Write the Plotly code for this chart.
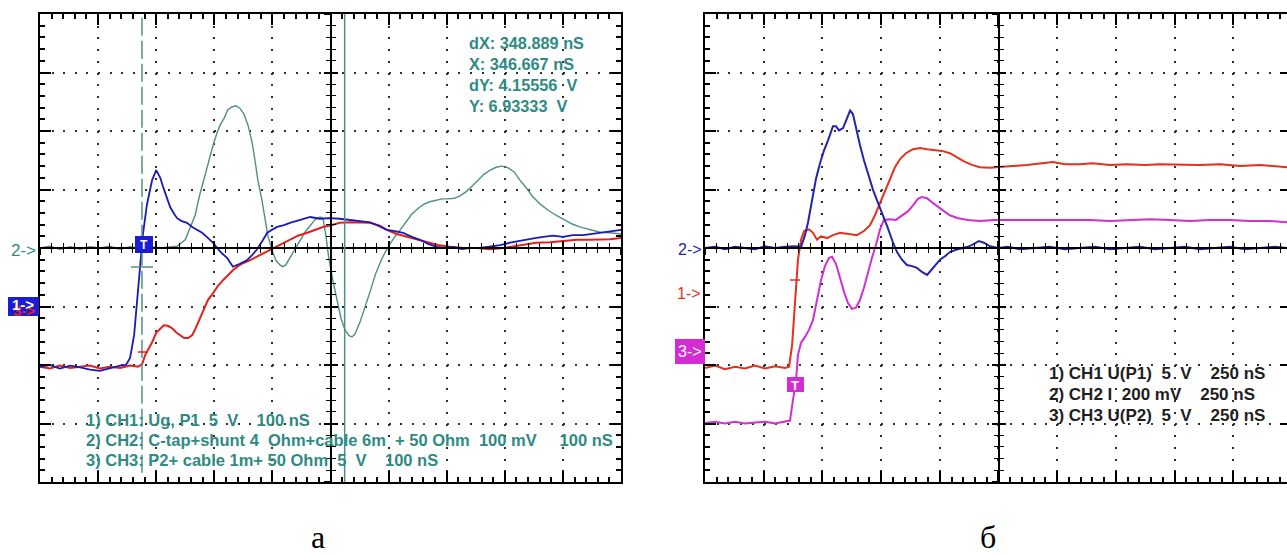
import plotly.graph_objects as go

W, H = 1287, 555

# ---------------- panel "а": 100 nS/div, amplitudes in screen divisions ----------------
A_CH1 = [(0, -2.03), (17, -2.00), (34, -2.06), (52, -2.01), (69, -2.04), (86, -2.08), (103, -2.10),
         (120, -2.05), (138, -2.01), (148, -2.00), (155, -1.88), (162, -1.49), (167, -0.89), (172, -0.24),
         (177, 0.22), (184, 0.74), (193, 1.16), (200, 1.33), (207, 1.20), (212, 1.04), (219, 0.85),
         (224, 0.70), (231, 0.58), (236, 0.51), (244, 0.46), (253, 0.43), (262, 0.36), (270, 0.31),
         (279, 0.26), (287, 0.19), (298, 0.09), (305, 0.00), (313, -0.09), (322, -0.17), (332, -0.32),
         (344, -0.27), (356, -0.21), (365, -0.12), (373, -0.03), (384, 0.14), (391, 0.26), (399, 0.31),
         (408, 0.36), (420, 0.39), (430, 0.43), (448, 0.48), (465, 0.53), (482, 0.50), (499, 0.51),
         (516, 0.50), (534, 0.48), (551, 0.46), (568, 0.44), (582, 0.38), (597, 0.31), (611, 0.29),
         (625, 0.26), (640, 0.19), (654, 0.14), (668, 0.07), (683, 0.02), (697, 0.00), (711, 0.02),
         (726, -0.02), (740, 0.00), (757, 0.00), (775, 0.02), (792, 0.05), (809, 0.09), (823, 0.12),
         (838, 0.14), (852, 0.17), (866, 0.19), (883, 0.21), (900, 0.19), (917, 0.22), (935, 0.22),
         (952, 0.24), (969, 0.26), (985, 0.29), (1000, 0.31)]

A_CH2 = [(0, 0.00), (17, 0.03), (34, -0.02), (52, 0.02), (69, -0.02), (86, 0.02), (103, 0.00),
         (120, 0.03), (138, -0.02), (155, 0.02), (172, -0.02), (189, 0.02), (207, 0.00), (224, 0.02),
         (236, 0.03), (250, 0.14), (258, 0.34), (267, 0.56), (275, 0.91), (284, 1.25), (293, 1.59),
         (298, 1.76), (305, 1.98), (310, 2.10), (317, 2.22), (323, 2.36), (330, 2.41), (337, 2.43),
         (344, 2.39), (351, 2.29), (358, 2.10), (365, 1.81), (370, 1.50), (375, 1.16), (382, 0.82),
         (387, 0.48), (392, 0.22), (399, -0.03), (406, -0.21), (413, -0.29), (418, -0.32), (423, -0.29),
         (430, -0.17), (437, -0.03), (448, 0.14), (456, 0.27), (465, 0.38), (473, 0.48), (482, 0.53),
         (487, 0.51), (492, 0.22), (497, -0.17), (504, -0.55), (511, -0.89), (518, -1.20), (525, -1.40),
         (532, -1.50), (537, -1.52), (542, -1.47), (551, -1.26), (559, -1.03), (568, -0.75), (578, -0.43),
         (589, -0.17), (599, 0.02), (609, 0.17), (620, 0.31), (630, 0.44), (640, 0.58), (651, 0.68),
         (661, 0.75), (671, 0.79), (682, 0.82), (692, 0.84), (702, 0.84), (713, 0.85), (723, 0.89),
         (733, 0.96), (744, 1.06), (754, 1.16), (764, 1.26), (775, 1.33), (785, 1.38), (795, 1.40),
         (806, 1.37), (816, 1.30), (826, 1.16), (837, 1.03), (847, 0.89), (861, 0.75), (874, 0.65),
         (888, 0.56), (902, 0.48), (916, 0.41), (929, 0.36), (947, 0.31), (964, 0.27), (981, 0.26),
         (1000, 0.24)]

A_CH3 = [(0, -2.03), (17, -2.06), (34, -2.01), (52, -2.05), (69, -2.03), (86, -2.01), (103, -2.06),
         (120, -2.03), (138, -2.05), (155, -2.01), (169, -2.03), (176, -1.98), (181, -1.83), (186, -1.74),
         (193, -1.61), (200, -1.45), (207, -1.37), (213, -1.32), (220, -1.33), (227, -1.37), (234, -1.44),
         (241, -1.49), (248, -1.54), (255, -1.54), (262, -1.49), (268, -1.37), (275, -1.20), (282, -1.03),
         (289, -0.89), (298, -0.77), (306, -0.65), (315, -0.55), (324, -0.46), (332, -0.38), (341, -0.31),
         (349, -0.26), (361, -0.21), (373, -0.15), (387, -0.07), (401, 0.00), (415, 0.07), (430, 0.14),
         (444, 0.21), (460, 0.26), (473, 0.31), (487, 0.36), (501, 0.39), (516, 0.43), (534, 0.44),
         (551, 0.44), (568, 0.43), (585, 0.38), (597, 0.31), (614, 0.24), (632, 0.19), (649, 0.14),
         (666, 0.09), (685, 0.05), (706, 0.02), (728, 0.00), (752, 0.00), (775, -0.02), (797, 0.00),
         (814, 0.03), (831, 0.05), (854, 0.09), (878, 0.10), (900, 0.12), (924, 0.14), (947, 0.14),
         (964, 0.14), (981, 0.15), (1000, 0.17)]

A_CURSOR_X = 175.5       # nS, reference (dashed) cursor
A_CURSOR_DX = 348.889    # nS, distance to the second (solid) cursor
A_READOUT = ["dX: 348.889 nS", "X: 346.667 nS", "dY: 4.15556  V", "Y: 6.93333  V"]
A_LEGEND = ["1) CH1: Ug, P1  5  V    100 nS",
            "2) CH2: C-tap+shunt 4  Ohm+cable 6m  + 50 Ohm  100 mV     100 nS",
            "3) CH3: P2+ cable 1m+ 50 Ohm  5  V    100 nS"]

# ---------------- panel "б": 250 nS/div ----------------
B_CH1 = [(0, -2.05), (43, -2.01), (85, -2.07), (128, -2.03), (170, -2.06), (213, -2.01), (256, -2.06),
         (298, -2.02), (341, -2.05), (358, -2.03), (371, -1.66), (383, -0.89), (396, -0.20), (409, 0.14),
         (422, 0.29), (443, 0.32), (460, 0.26), (477, 0.14), (494, 0.20), (520, 0.17), (545, 0.22),
         (575, 0.26), (609, 0.24), (647, 0.22), (677, 0.29), (703, 0.39), (724, 0.56), (745, 0.77),
         (767, 0.99), (788, 1.19), (809, 1.38), (831, 1.52), (856, 1.62), (886, 1.69), (916, 1.71),
         (946, 1.69), (980, 1.67), (1009, 1.66), (1043, 1.62), (1073, 1.55), (1103, 1.48), (1137, 1.42),
         (1171, 1.38), (1214, 1.37), (1256, 1.38), (1308, 1.40), (1371, 1.42), (1427, 1.45), (1482, 1.47),
         (1533, 1.43), (1597, 1.43), (1652, 1.45), (1725, 1.42), (1797, 1.43), (1874, 1.42), (1938, 1.43),
         (2023, 1.42), (2108, 1.42), (2193, 1.43), (2279, 1.40), (2364, 1.42), (2479, 1.38)]

B_CH2 = [(0, 0.00), (43, 0.02), (85, -0.02), (128, 0.02), (170, 0.00), (213, -0.02), (256, 0.03),
         (298, 0.00), (341, 0.02), (383, 0.03), (409, 0.02), (426, 0.22), (439, 0.44), (456, 0.82),
         (473, 1.19), (490, 1.45), (507, 1.67), (524, 1.84), (545, 2.08), (558, 2.08), (571, 2.01),
         (588, 2.05), (605, 2.22), (618, 2.35), (630, 2.29), (643, 2.05), (660, 1.76), (677, 1.50),
         (694, 1.28), (716, 0.99), (737, 0.77), (758, 0.56), (779, 0.34), (801, 0.09), (818, -0.07),
         (839, -0.20), (860, -0.29), (882, -0.31), (903, -0.34), (924, -0.41), (946, -0.46), (963, -0.38),
         (980, -0.29), (1001, -0.20), (1022, -0.14), (1043, -0.07), (1069, -0.03), (1095, 0.00),
         (1120, 0.02), (1146, 0.07), (1167, 0.12), (1188, 0.09), (1214, 0.03), (1248, 0.00), (1290, 0.02),
         (1342, -0.02), (1405, 0.00), (1469, 0.02), (1533, -0.02), (1597, 0.00), (1661, 0.02),
         (1725, -0.02), (1789, 0.00), (1853, 0.02), (1916, -0.02), (1980, 0.00), (2044, 0.02),
         (2108, -0.02), (2172, 0.00), (2236, 0.02), (2300, -0.02), (2364, 0.00), (2428, 0.02), (2479, 0.00)]

B_CH3 = [(0, -2.99), (43, -2.97), (85, -3.00), (128, -2.97), (170, -3.00), (213, -2.99), (256, -2.97),
         (298, -3.00), (341, -2.97), (362, -2.95), (375, -2.59), (388, -2.25), (396, -1.83), (409, -1.62),
         (426, -1.52), (443, -1.40), (460, -1.23), (477, -0.89), (494, -0.55), (511, -0.31), (528, -0.17),
         (541, -0.15), (558, -0.27), (575, -0.51), (592, -0.75), (609, -0.94), (626, -1.04), (643, -1.02),
         (660, -0.89), (677, -0.68), (694, -0.41), (711, -0.17), (728, 0.05), (745, 0.31), (762, 0.48),
         (788, 0.49), (813, 0.48), (839, 0.55), (865, 0.63), (886, 0.73), (907, 0.84), (924, 0.87),
         (946, 0.85), (967, 0.78), (992, 0.70), (1018, 0.63), (1043, 0.56), (1078, 0.51), (1120, 0.48),
         (1171, 0.46), (1235, 0.48), (1299, 0.48), (1384, 0.49), (1469, 0.48), (1555, 0.49), (1640, 0.48),
         (1725, 0.46), (1810, 0.48), (1895, 0.49), (1980, 0.48), (2066, 0.46), (2151, 0.48), (2236, 0.48),
         (2321, 0.46), (2406, 0.46), (2479, 0.44)]

B_LEGEND = ["1) CH1 U(P1)  5  V    250 nS",
            "2) CH2 I  200 mV    250 nS",
            "3) CH3 U(P2)  5  V    250 nS"]

PANEL_LABELS = ["а", "б"]

# ---------------- styling ----------------
TEAL_TXT = "#2f8a83"
TEAL = "#4f8f86"
BLUE_A = "#1a1ab8"
RED_A = "#e2201c"
RED_B = "#e5301f"
MAG_B = "#d22fd2"
BLUE_B = "#2424ae"
GRID = "#2e2e2e"
NARROW = "Liberation Sans Narrow, Arial Narrow, Liberation Sans, Arial, sans-serif"
SANS = "Liberation Sans, Arial, sans-serif"
SERIF = "Liberation Serif, Times New Roman, serif"

Y_RANGE = [-4, 4]


def fx(p):
    return p / W


def fy(p):
    return 1 - p / H


A_DOM_X = [fx(40), fx(621)]
B_DOM_X = [fx(705), 1.0]
DOM_Y = [fy(482), fy(14)]
A_RANGE = [0, 1000]
B_RANGE = [0, 2479]


def nbsp(s):
    return s.replace(" ", "\u00a0")


def frame_x(domain, rng, dtick, anchor, dash):
    return dict(domain=domain, range=rng, tick0=0, dtick=dtick, showticklabels=False,
                ticks="inside", ticklen=11, tickwidth=2, tickcolor="black",
                showline=True, linecolor="black", linewidth=2, mirror="ticks",
                showgrid=True, gridcolor=GRID, gridwidth=2, griddash=dash,
                zeroline=False, anchor=anchor, fixedrange=True,
                minor=dict(tick0=0, dtick=dtick / 5, ticks="inside", ticklen=5,
                           tickwidth=1.5, tickcolor="black", showgrid=False))


def frame_y(domain, anchor, dash, mirror):
    return dict(domain=domain, range=Y_RANGE, tick0=0, dtick=1, showticklabels=False,
                ticks="inside", ticklen=11, tickwidth=2, tickcolor="black",
                showline=True, linecolor="black", linewidth=2, mirror=mirror,
                showgrid=True, gridcolor=GRID, gridwidth=2, griddash=dash,
                zeroline=False, anchor=anchor, fixedrange=True,
                minor=dict(tick0=0, dtick=0.2, ticks="inside", ticklen=5,
                           tickwidth=1.5, tickcolor="black", showgrid=False))


def cross_x(base, domain, rng, dtick, pos, ticks):
    return dict(overlaying=base, domain=domain, anchor="free", position=pos, range=rng,
                tick0=0, dtick=dtick, showticklabels=False, ticks=ticks, ticklen=6,
                tickwidth=1.5, tickcolor="black", showline=True, linecolor="black",
                linewidth=2, showgrid=False, zeroline=False, fixedrange=True,
                minor=dict(tick0=0, dtick=dtick / 5, ticks=ticks, ticklen=4,
                           tickwidth=1.2, tickcolor="black", showgrid=False))


def cross_y(base, domain, pos, ticks, side="left", line=True, ticklen=6, minor=True):
    d = dict(overlaying=base, domain=domain, anchor="free", position=pos, side=side,
             range=Y_RANGE, tick0=0, dtick=1, showticklabels=False, ticks=ticks,
             ticklen=ticklen, tickwidth=1.5 if line else 2, tickcolor="black",
             showline=line, linecolor="black", linewidth=2, showgrid=False,
             zeroline=False, fixedrange=True)
    if minor:
        d["minor"] = dict(tick0=0, dtick=0.2, ticks=ticks, ticklen=4, tickwidth=1.2,
                          tickcolor="black", showgrid=False)
    return d


fig = go.Figure()


def add_wave(points, color, width, xa, ya):
    t, v = zip(*points)
    fig.add_trace(go.Scatter(x=list(t), y=list(v), mode="lines",
                             line=dict(color=color, width=width),
                             xaxis=xa, yaxis=ya, hoverinfo="skip", showlegend=False))


def anchor_trace(xa, ya, xval):
    # invisible point so that the overlay axis gets drawn
    fig.add_trace(go.Scatter(x=[xval], y=[0], mode="markers", marker=dict(opacity=0),
                             xaxis=xa, yaxis=ya, hoverinfo="skip", showlegend=False))


# panel а waveforms
add_wave(A_CH2, TEAL, 1.4, "x", "y")
add_wave(A_CH3, RED_A, 2.0, "x", "y")
add_wave(A_CH1, BLUE_A, 1.8, "x", "y")

# panel б waveforms
add_wave(B_CH1, RED_B, 2.0, "x2", "y2")
add_wave(B_CH3, MAG_B, 2.0, "x2", "y2")
add_wave(B_CH2, BLUE_B, 2.0, "x2", "y2")

for xa, ya, xv in [("x3", "y", 500), ("x4", "y", 500), ("x", "y3", 500), ("x", "y4", 500),
                   ("x5", "y2", 1250), ("x6", "y2", 1250), ("x2", "y5", 1250),
                   ("x2", "y6", 1250), ("x2", "y7", 1250)]:
    anchor_trace(xa, ya, xv)

y_mid = (DOM_Y[0] + DOM_Y[1]) / 2
a_mid = (A_DOM_X[0] + A_DOM_X[1]) / 2
b_mid = fx(705 + 5 * 58.7)

layout = dict(
    width=W, height=H, margin=dict(l=0, r=0, t=0, b=0),
    paper_bgcolor="white", plot_bgcolor="white", showlegend=False,
    xaxis=frame_x(A_DOM_X, A_RANGE, 100, "y", "2px,9.7px"),
    yaxis=frame_y(DOM_Y, "x", "2px,9.62px", "ticks"),
    xaxis2=frame_x(B_DOM_X, B_RANGE, 250, "y2", "2px,9.7px"),
    yaxis2=frame_y(DOM_Y, "x2", "2px,9.74px", False),
    xaxis3=cross_x("x", A_DOM_X, A_RANGE, 100, y_mid, "outside"),
    xaxis4=cross_x("x", A_DOM_X, A_RANGE, 100, y_mid, "inside"),
    yaxis3=cross_y("y", DOM_Y, a_mid, "outside"),
    yaxis4=cross_y("y", DOM_Y, a_mid, "inside"),
    xaxis5=cross_x("x2", B_DOM_X, B_RANGE, 250, y_mid, "outside"),
    xaxis6=cross_x("x2", B_DOM_X, B_RANGE, 250, y_mid, "inside"),
    yaxis5=cross_y("y2", DOM_Y, b_mid, "outside"),
    yaxis6=cross_y("y2", DOM_Y, b_mid, "inside"),
    yaxis7=cross_y("y2", DOM_Y, 1.0, "inside", side="right", line=False, ticklen=7, minor=False),
)
fig.update_layout(**layout)

shapes = []
annotations = []


def box(x0, y0, x1, y1, color):
    shapes.append(dict(type="rect", xref="paper", yref="paper", x0=fx(x0), x1=fx(x1),
                       y0=fy(y1), y1=fy(y0), fillcolor=color, line=dict(width=0), layer="above"))


def text(x, y, s, color, size, family=NARROW, bold=True, xanchor="left"):
    annotations.append(dict(xref="paper", yref="paper", x=fx(x), y=fy(y), text=nbsp(s),
                            showarrow=False, xanchor=xanchor, yanchor="middle",
                            font=dict(family=family, size=size, color=color,
                                      weight="bold" if bold else "normal")))


# cursors of panel а
shapes.append(dict(type="line", xref="x", yref="y domain", x0=A_CURSOR_X, x1=A_CURSOR_X,
                   y0=0.02, y1=1, line=dict(color=TEAL, width=1.5, dash="18px,5px"), layer="above"))
shapes.append(dict(type="line", xref="x", yref="y domain", x0=A_CURSOR_X + A_CURSOR_DX,
                   x1=A_CURSOR_X + A_CURSOR_DX, y0=0, y1=1,
                   line=dict(color=TEAL, width=1.5), layer="above"))
shapes.append(dict(type="line", xref="paper", yref="paper", x0=fx(131), x1=fx(153),
                   y0=fy(267), y1=fy(267), line=dict(color=TEAL, width=1.5), layer="above"))
shapes.append(dict(type="line", xref="paper", yref="paper", x0=fx(138), x1=fx(148),
                   y0=fy(352), y1=fy(352), line=dict(color=RED_A, width=1.5), layer="above"))
shapes.append(dict(type="line", xref="paper", yref="paper", x0=fx(790), x1=fx(800),
                   y0=fy(280), y1=fy(280), line=dict(color=RED_B, width=1.5), layer="above"))

# channel markers and trigger boxes
box(8, 297, 39, 316, "#1c1cd2")
box(135, 236, 153, 253, "#1c1cd2")
box(675, 339, 705, 364, "#d52bd5")
box(787, 377, 804, 392, "#d52bd5")

text(23, 250, "2->", TEAL_TXT, 17, SANS, bold=False, xanchor="center")
text(24, 310, "3->", RED_A, 15, SANS, bold=True, xanchor="center")
text(23, 304, "1->", "white", 15, SANS, bold=True, xanchor="center")
text(144, 245, "T", "white", 12, SANS, bold=True, xanchor="center")

text(690, 249, "2->", BLUE_B, 16, SANS, bold=False, xanchor="center")
text(689, 293, "1->", RED_B, 16, SANS, bold=False, xanchor="center")
text(690, 351, "3->", "white", 16, SANS, bold=False, xanchor="center")
text(795, 385, "T", "white", 13, SANS, bold=True, xanchor="center")

# cursor readout and channel captions
for i, s in enumerate(A_READOUT):
    text(467, 43 + 21 * i, s, TEAL_TXT, 16.3)
for i, s in enumerate(A_LEGEND):
    text(84, 420 + 20 * i, s, TEAL_TXT, 16.5)
for i, s in enumerate(B_LEGEND):
    text(1047, 373 + 21 * i, s, "#1e1e1e", 17)

# panel labels
text(318, 537, PANEL_LABELS[0], "black", 32, SERIF, bold=False, xanchor="center")
text(988, 537, PANEL_LABELS[1], "black", 32, SERIF, bold=False, xanchor="center")

fig.update_layout(shapes=shapes, annotations=annotations)
fig.write_html("out.html")
